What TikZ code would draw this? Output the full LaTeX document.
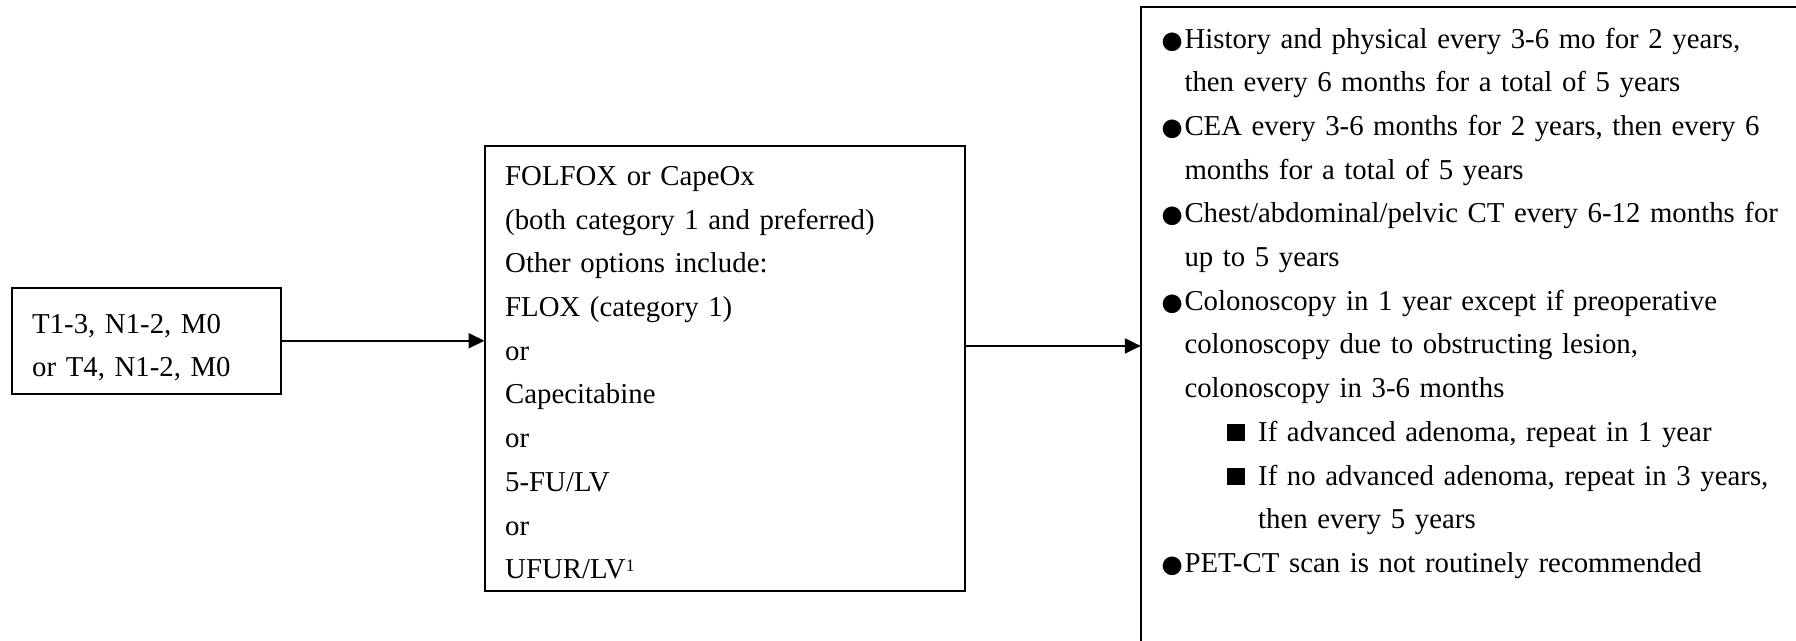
\documentclass[tikz,border=0pt]{standalone}
\usepackage{fontspec}
\setmainfont{Liberation Serif}
\usetikzlibrary{arrows.meta}
% list markers for the follow-up box
\newcommand{\mainbullet}{\makebox[21.7pt][l]{\hspace*{-3pt}\raisebox{-6pt}{\scalebox{1.5}{●}}}}
\newcommand{\maincont}{\hspace*{21.7pt}}
\newcommand{\subbullet}{\hspace*{64.4pt}\makebox[31pt][l]{\rule{18pt}{17.5pt}}}
\newcommand{\subcont}{\hspace*{95.4pt}}
\newcommand{\smallsup}[1]{\raisebox{7.5pt}{\fontsize{17.5}{17.5}\selectfont #1}}
\begin{document}
\begin{tikzpicture}[x=1pt,y=-1pt,
  box/.style={draw, line width=2pt, inner sep=0pt, outer sep=0pt},
  txt/.style={font=\fontsize{28.8}{43.7}\selectfont, align=left, inner sep=0pt, anchor=base west},
  arr/.style={line width=2pt, -{Triangle[length=16pt,width=15pt]}}]
\useasboundingbox (0,0) rectangle (1796,640);

% frames
\node[box, minimum width=269pt, minimum height=106.5pt] (stage) at (146,340.75) {};
\node[box, minimum width=480pt, minimum height=445.5pt] (therapy) at (724.5,368.25) {};
\node[box, minimum width=700pt, minimum height=700pt, anchor=north west] (followup) at (1140.8,7) {};

% texts
\node[txt, text width=240pt] (stagetext) at (32,333) {T1-3, N1-2, M0\\or T4, N1-2, M0};
\node[txt, text width=440pt] (therapytext) at (505,185.4) {FOLFOX or CapeOx\\
(both category 1 and preferred)\\
Other options include:\\
FLOX (category 1)\\
or\\
Capecitabine\\
or\\
5-FU/LV\\
or\\
UFUR/LV\smallsup{1}};
\node[txt, text width=640pt] (followuptext) at (1162.6,48) {\mainbullet History and physical every 3-6 mo for 2 years,\\
\maincont then every 6 months for a total of 5 years\\
\mainbullet CEA every 3-6 months for 2 years, then every 6\\
\maincont months for a total of 5 years\\
\mainbullet Chest/abdominal/pelvic CT every 6-12 months for\\
\maincont up to 5 years\\
\mainbullet Colonoscopy in 1 year except if preoperative\\
\maincont colonoscopy due to obstructing lesion,\\
\maincont colonoscopy in 3-6 months\\
\subbullet If advanced adenoma, repeat in 1 year\\
\subbullet If no advanced adenoma, repeat in 3 years,\\
\subcont then every 5 years\\
\mainbullet PET-CT scan is not routinely recommended};

% connectors
\draw[arr] (stage.east) -- (stage.east -| therapy.west);
\draw[arr] ([yshift=22.3pt]therapy.east) -- ([yshift=22.3pt]therapy.east -| followup.west);
\end{tikzpicture}
\end{document}
